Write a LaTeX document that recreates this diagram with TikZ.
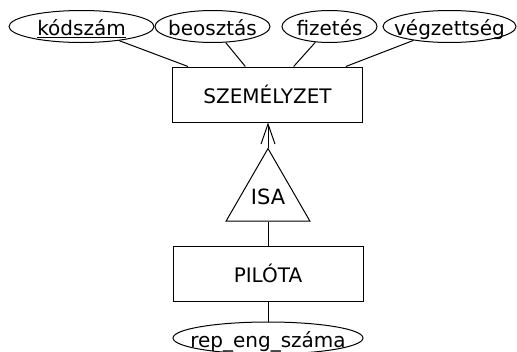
\documentclass[tikz,border=0pt]{standalone}
\usepackage{fontspec}
\setmainfont{DejaVu Sans}
\usetikzlibrary{shapes.geometric,arrows.meta,calc}
\newcommand\attxt[1]{\makebox[0pt]{#1}}
\begin{document}
\begin{tikzpicture}[x=1pt,y=-1pt,line width=1pt,
  every node/.style={font=\fontsize{20}{24}\selectfont},
  attr/.style={draw,ellipse,inner sep=0pt,minimum height=32pt,text height=18pt,text depth=0pt},
  ent/.style={draw,rectangle,inner sep=0pt,minimum width=190pt,minimum height=55pt},
  isa/.style={draw,regular polygon,regular polygon sides=3,inner sep=0pt,minimum size=88pt},
  isarrow/.style={-{Straight Barb[length=20pt,width=14pt]}}]
\useasboundingbox (0,0) rectangle (517,351);
% attributes
\node[attr,minimum width=145pt] (e1) at (81.5,26.5) {\attxt{\underline{kódszám}}};
\node[attr,minimum width=115pt] (e2) at (212.5,26.5) {\attxt{beosztás}};
\node[attr,minimum width=95pt]  (e3) at (329.5,26.5) {\attxt{fizetés}};
\node[attr,minimum width=133pt] (e4) at (449.5,26.5) {\attxt{végzettség}};
% entities
\node[ent] (sz) at (267.5,94.5) {SZEMÉLYZET};
\node[isa] (isa) at (268,197) {\fontsize{21}{24}\selectfont ISA};
\node[ent] (pil) at (268,273.5) {PILÓTA};
\node[attr,minimum width=190pt] (e5) at (268,338) {\attxt{rep\_eng\_száma}};
% connection points on the top of SZEMÉLYZET
\coordinate (t1) at ($(sz.north west)!0.084!(sz.north east)$);
\coordinate (t2) at ($(sz.north west)!0.384!(sz.north east)$);
\coordinate (t3) at ($(sz.north west)!0.637!(sz.north east)$);
\coordinate (t4) at ($(sz.north west)!0.910!(sz.north east)$);
\draw (t1) -- (e1);
\draw (t2) -- (e2);
\draw (t3) -- (e3);
\draw (t4) -- (e4);
% ISA
\draw[isarrow] (isa.corner 1) -- (isa.corner 1 |- sz.south);
\draw (isa.south) -- (isa.south |- pil.north);
\draw (pil.south) -- (e5.north);
\end{tikzpicture}
\end{document}
